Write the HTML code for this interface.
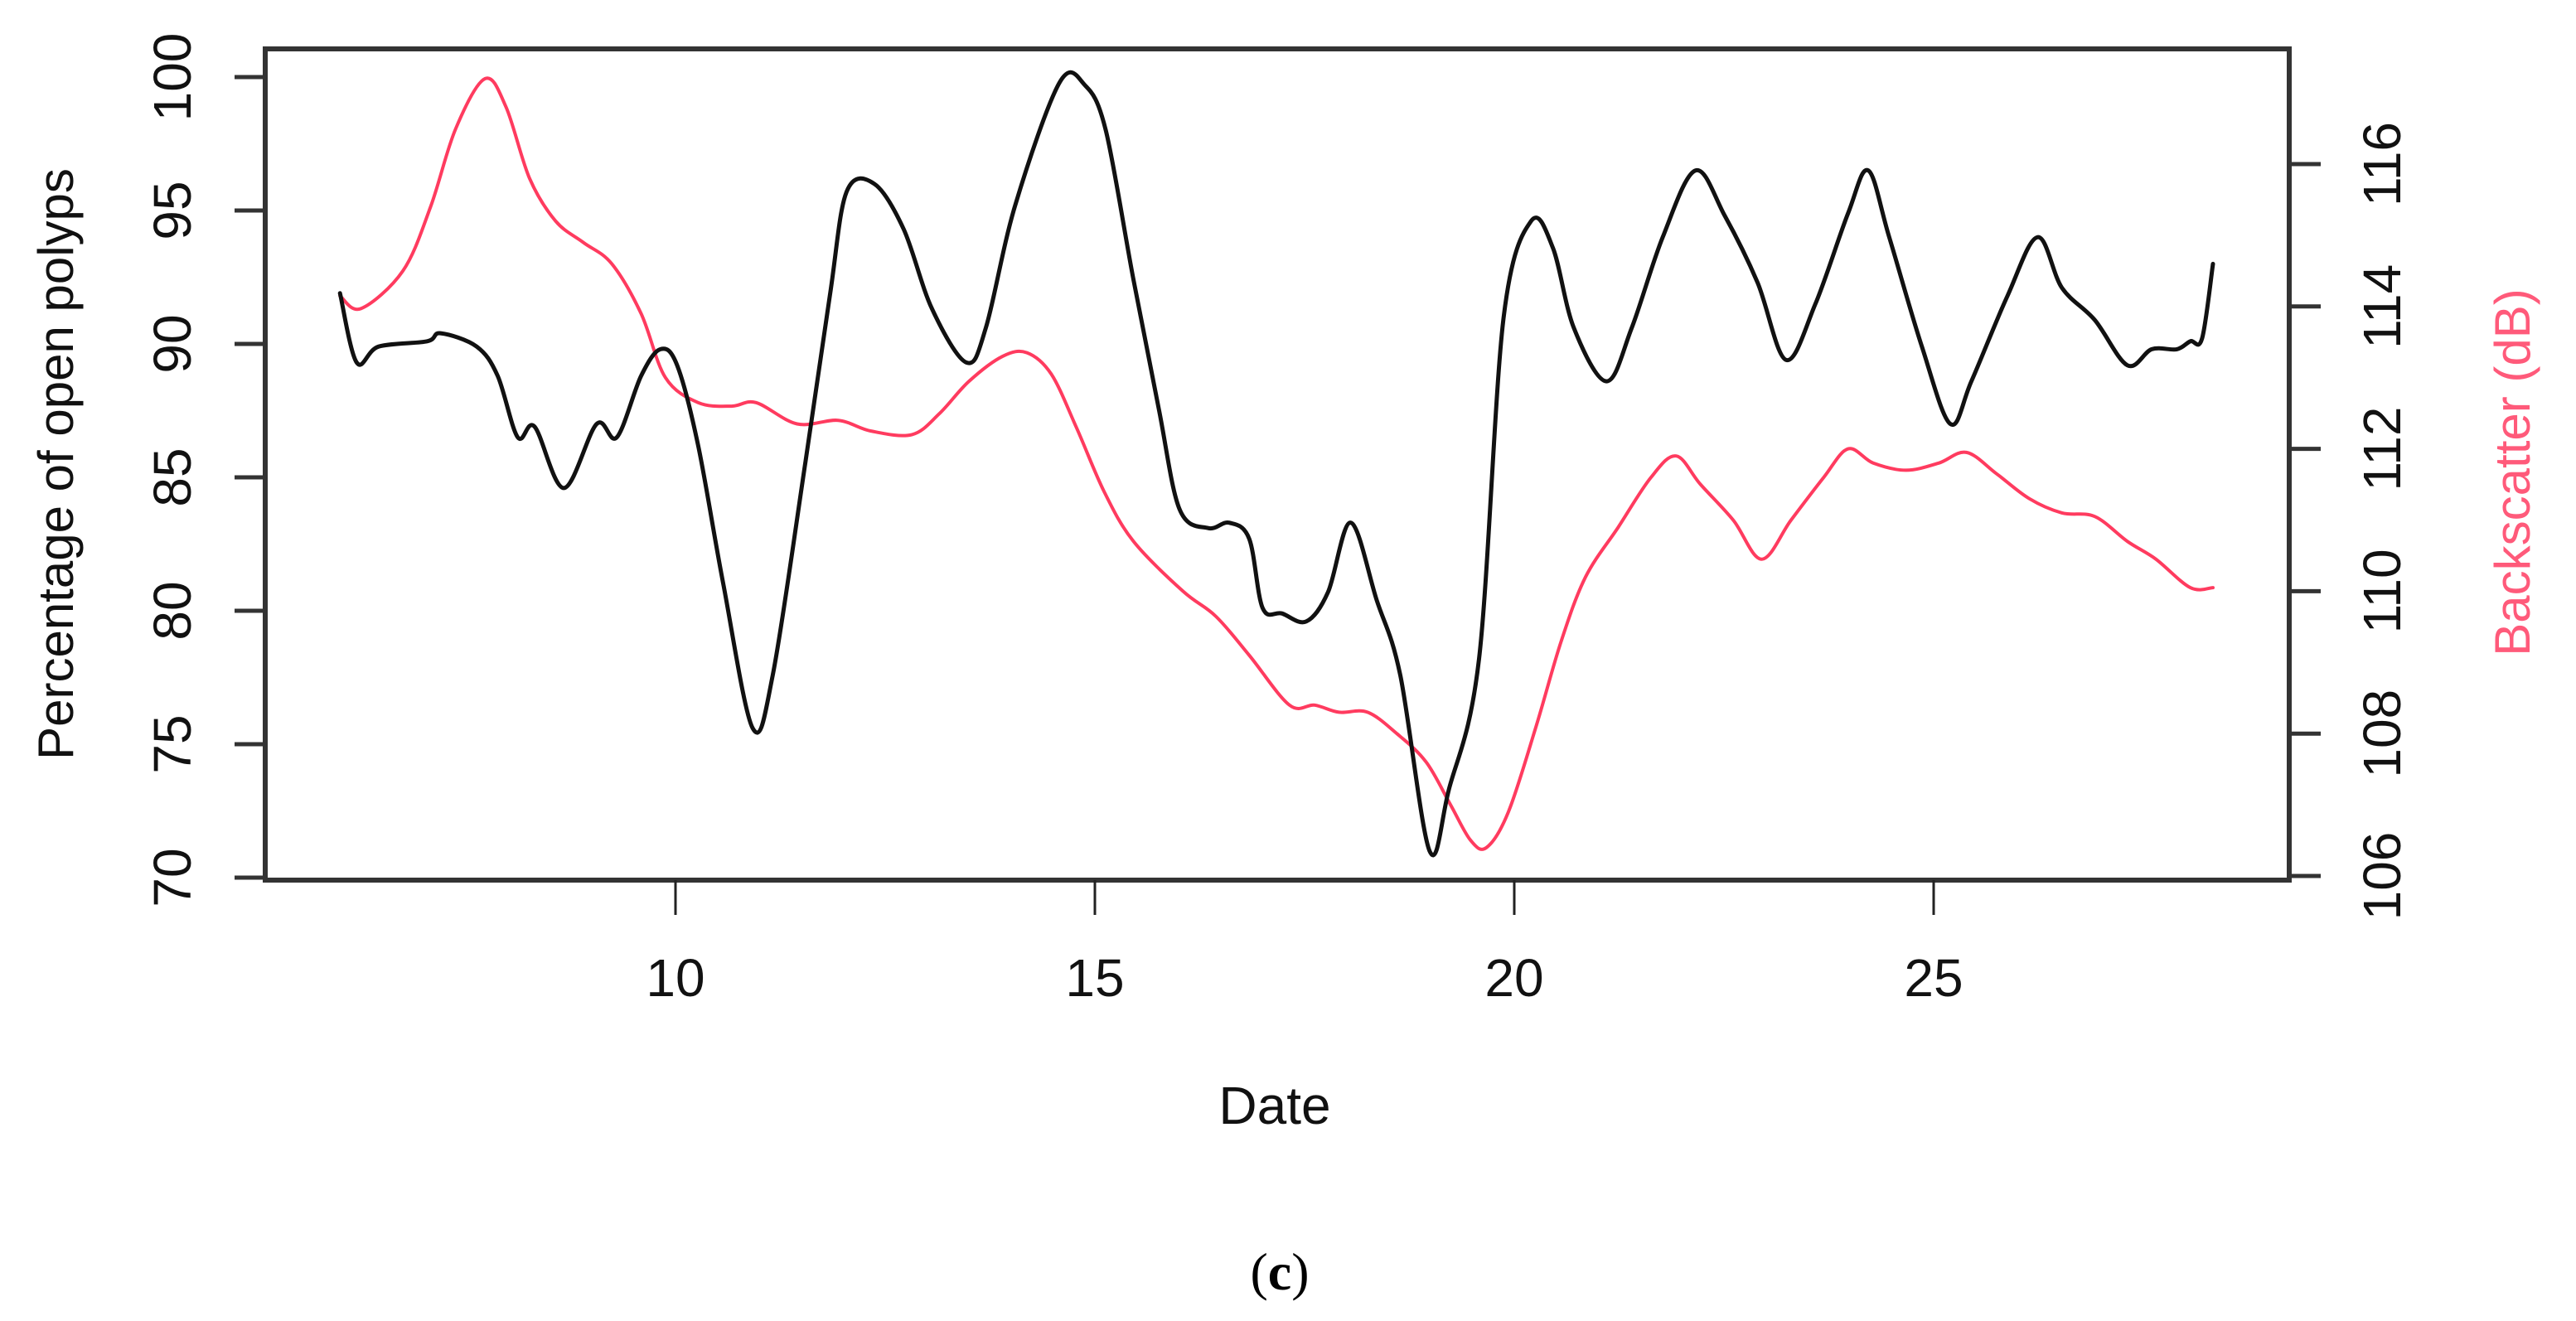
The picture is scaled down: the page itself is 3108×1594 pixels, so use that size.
<!DOCTYPE html>
<html><head><meta charset="utf-8"><style>
html,body{margin:0;padding:0;background:#fff;}
svg{display:block;}
text{font-family:"Liberation Sans",Arial,sans-serif;}
</style></head><body>
<svg id="chart" width="3108" height="1594" viewBox="0 0 3108 1594" xmlns="http://www.w3.org/2000/svg">
<rect x="0" y="0" width="3108" height="1594" fill="#fff"/>
<g id="axes"></g>
<g id="series"></g>
<text x="1538" y="1356" font-size="64" text-anchor="middle" fill="#111">Date</text>
<text transform="translate(88,560) rotate(-90)" font-size="60" text-anchor="middle" fill="#111">Percentage of open polyps</text>
<text transform="translate(3052,570) rotate(-90)" font-size="60" text-anchor="middle" fill="#ff5a7a">Backscatter (dB)</text>
<text x="1544" y="1556" font-size="64" text-anchor="middle" fill="#000" style="font-family:'Liberation Serif',serif">(<tspan font-weight="bold">c</tspan>)</text>
</svg>
<script>
const xTicks = [10, 15, 20, 25];
const leftTicks = [70, 75, 80, 85, 90, 95, 100];
const rightTicks = [106, 108, 110, 112, 114, 116];
const polypDates = [6.0,6.2,6.46,7.04,7.2,7.63,7.88,8.12,8.32,8.67,9.06,9.3,9.59,9.82,10.02,10.27,10.57,10.92,11.16,11.55,11.84,12.04,12.37,12.72,13.06,13.47,13.7,14.05,14.58,14.88,15.13,15.46,15.76,16.01,16.35,16.6,16.84,17.0,17.23,17.52,17.78,18.05,18.36,18.64,18.99,19.22,19.58,19.87,20.2,20.46,20.71,21.1,21.4,21.77,22.16,22.51,22.9,23.24,23.59,23.98,24.22,24.47,24.86,25.2,25.45,25.88,26.24,26.53,26.92,27.31,27.6,27.9,28.06,28.2,28.33];
const polypValues = [91.9,89.3,89.9,90.1,90.4,89.9,88.8,86.5,86.9,84.6,87.0,86.5,88.8,89.8,89.2,86.2,81.0,75.6,77.6,85.6,91.8,95.7,96.0,94.3,91.3,89.3,90.6,95.2,99.8,99.7,98.0,92.4,87.6,83.8,83.1,83.3,82.7,80.1,79.9,79.6,80.7,83.3,80.4,77.6,71.0,73.3,78.2,90.9,94.6,93.6,90.6,88.6,90.6,94.0,96.5,94.8,92.3,89.4,91.5,94.9,96.5,94.0,89.9,87.0,88.6,91.8,94.0,92.1,90.9,89.2,89.8,89.8,90.1,90.2,93.0];
const backDates = [6.0,6.25,6.75,7.08,7.38,7.73,7.98,8.26,8.57,8.9,9.24,9.59,9.88,10.27,10.67,10.96,11.45,11.94,12.33,12.82,13.15,13.5,13.9,14.19,14.48,14.78,15.11,15.46,16.05,16.44,16.84,17.32,17.62,17.91,18.25,18.6,18.95,19.24,19.48,19.67,19.93,20.26,20.56,20.85,21.24,21.63,21.93,22.22,22.61,22.95,23.3,23.69,23.98,24.28,24.67,25.06,25.39,25.75,26.14,26.53,26.92,27.31,27.65,28.06,28.33];
const backValues = [114.15,113.97,114.5,115.4,116.5,117.2,116.8,115.8,115.2,114.9,114.6,113.9,113.0,112.65,112.6,112.65,112.35,112.4,112.25,112.2,112.5,112.95,113.3,113.35,113.05,112.3,111.4,110.7,110.0,109.65,109.1,108.4,108.4,108.3,108.3,108.0,107.6,107.0,106.5,106.4,106.9,108.1,109.3,110.2,110.9,111.6,111.9,111.5,111.0,110.45,111.0,111.6,112.0,111.8,111.7,111.8,111.95,111.65,111.3,111.1,111.05,110.7,110.45,110.05,110.05];

const NS = 'http://www.w3.org/2000/svg';
const L = 320, R = 2762, T = 59, B = 1062;
function xs(d){ return 815 + (d - 10) * 101.2; }
function yl(v){ return 93 + (100 - v) * 32.2; }
function yr(v){ return 198 + (116 - v) * 85.9; }
function mk(tag, attrs, parent){
  const e = document.createElementNS(NS, tag);
  for (const k in attrs) e.setAttribute(k, attrs[k]);
  parent.appendChild(e);
  return e;
}
function smoothPath(pts){
  let d = 'M' + pts[0][0].toFixed(1) + ',' + pts[0][1].toFixed(1);
  for (let i = 0; i < pts.length - 1; i++){
    const p0 = pts[Math.max(0, i-1)], p1 = pts[i], p2 = pts[i+1], p3 = pts[Math.min(pts.length-1, i+2)];
    const t = 6;
    const c1x = p1[0] + (p2[0]-p0[0])/t, c1y = p1[1] + (p2[1]-p0[1])/t;
    const c2x = p2[0] - (p3[0]-p1[0])/t, c2y = p2[1] - (p3[1]-p1[1])/t;
    d += ' C' + c1x.toFixed(1) + ',' + c1y.toFixed(1) + ' ' + c2x.toFixed(1) + ',' + c2y.toFixed(1) + ' ' + p2[0].toFixed(1) + ',' + p2[1].toFixed(1);
  }
  return d;
}
const box = mk('rect', {x:L, y:T, width:R-L, height:B-T, fill:'none', stroke:'#333', 'stroke-width':6}, axes);


xTicks.forEach(t => {
  const x = xs(t);
  const ln = mk('line', {x1:x, y1:B, x2:x, y2:1104, stroke:'#222', 'stroke-width':3}, axes);
  
  
  const tx = mk('text', {x:x, y:1202, 'font-size':64, 'text-anchor':'middle', fill:'#111'}, axes);
  tx.textContent = t;
  
  
});
leftTicks.forEach(t => {
  const y = yl(t);
  const ln = mk('line', {x1:283, y1:y, x2:L, y2:y, stroke:'#333', 'stroke-width':5}, axes);
  
  
  const tx = mk('text', {transform:'translate(230,' + y + ') rotate(-90)', 'font-size':64, 'text-anchor':'middle', fill:'#111'}, axes);
  tx.textContent = t;
  
  
});
rightTicks.forEach(t => {
  const y = yr(t);
  const ln = mk('line', {x1:R, y1:y, x2:2800, y2:y, stroke:'#333', 'stroke-width':5}, axes);
  
  
  const tx = mk('text', {transform:'translate(2896,' + y + ') rotate(-90)', 'font-size':64, 'text-anchor':'middle', fill:'#111'}, axes);
  tx.textContent = t;
  
  
});
const bpts = backDates.map((d,i) => [xs(d), yr(backValues[i])]);
const red = mk('path', {d:smoothPath(bpts), fill:'none', stroke:'#ff3b5f', 'stroke-width':4, 'stroke-linejoin':'round', 'stroke-linecap':'round'}, series);


const ppts = polypDates.map((d,i) => [xs(d), yl(polypValues[i])]);
const blk = mk('path', {d:smoothPath(ppts), fill:'none', stroke:'#111', 'stroke-width':5, 'stroke-linejoin':'round', 'stroke-linecap':'round'}, series);


</script>
</body></html>
